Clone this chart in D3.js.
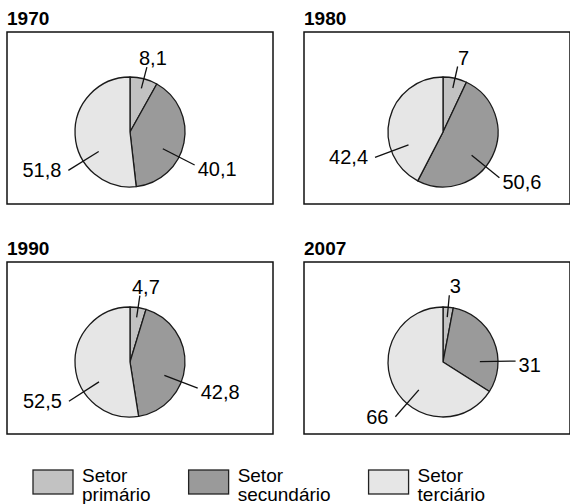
<!DOCTYPE html>
<html>
<head>
<meta charset="utf-8">
<script src="https://cdn.jsdelivr.net/npm/d3@7"></script>
<style>
  html, body { margin: 0; padding: 0; background: #fff; }
  svg { display: block; font-family: "Liberation Sans", Arimo, Arial, Helvetica, sans-serif; }
</style>
</head>
<body>
<svg id="chart" width="570" height="504"></svg>
<script>
// Data
const years = ["1970", "1980", "1990", "2007"];
const sectors = ["primário", "secundário", "terciário"];
const primario = [8.1, 7, 4.7, 3];
const secundario = [40.1, 50.6, 42.8, 31];
const terciario = [51.8, 42.4, 52.5, 66];

const colors = ["#c2c2c2", "#9a9a9a", "#e6e6e6"];

const svg = d3.select("#chart");
const boxW = 266, boxH = 172, r = 55;
const colX = [7, 304], rowY = [32, 262];
const pieDx = [123, 139], pieDy = 100;

const pie = d3.pie().sort(null).value(d => d);
const arc = d3.arc().innerRadius(0).outerRadius(r);

const fmt = v => String(v).replace(".", ",");
// how far the lower labels are pulled towards the bottom of the pie
const pull = [0, 0.2, 0.33];

years.forEach((year, i) => {
    const col = i % 2, row = Math.floor(i / 2);
    const x0 = colX[col], y0 = rowY[row];
    const g = svg.append("g").attr("transform", `translate(${x0},${y0})`);

    // Title
    g.append("text")
        .attr("x", 0).attr("y", -7)
        .attr("font-size", 19).attr("font-weight", "bold")
        .text(year);

    // Frame
    g.append("rect")
        .attr("width", boxW).attr("height", boxH)
        .attr("fill", "none").attr("stroke", "#111").attr("stroke-width", 1.5);

    const values = [primario[i], secundario[i], terciario[i]];
    const arcs = pie(values);
    const pg = g.append("g").attr("transform", `translate(${pieDx[col]},${pieDy})`);

    pg.selectAll("path")
        .data(arcs)
        .enter()
        .append("path")
        .attr("d", arc)
        .attr("fill", (d, k) => colors[k])
        .attr("stroke", "#1a1a1a")
        .attr("stroke-width", 1.3)
        .attr("stroke-linejoin", "round");

    // Labels with leader lines
    arcs.forEach((d, k) => {
        const mid = (d.startAngle + d.endAngle) / 2;
        const a = mid + pull[k] * (Math.PI - mid);
        const rIn = k === 0 ? 0.82 * r : 0.67 * r;
        const rOut = k === 0 ? 1.22 * r : 1.32 * r;
        const p1 = [rIn * Math.sin(a), -rIn * Math.cos(a)];
        const p2 = [rOut * Math.sin(a), -rOut * Math.cos(a)];

        pg.append("line")
            .attr("x1", p1[0]).attr("y1", p1[1])
            .attr("x2", p2[0]).attr("y2", p2[1])
            .attr("stroke", "#111").attr("stroke-width", 1.3);

        const t = pg.append("text")
            .attr("font-size", 20)
            .text(fmt(d.data));
        if (k === 0) {
            t.attr("x", p2[0] + 6).attr("y", p2[1] - 2).attr("text-anchor", "middle");
        } else if (Math.sin(a) > 0) {
            t.attr("x", p2[0] + 3).attr("y", p2[1] + 11).attr("text-anchor", "start");
        } else {
            t.attr("x", p2[0] - 7).attr("y", p2[1] + 7).attr("text-anchor", "end");
        }
    });
});

// Legend: swatch + two-line label, items laid out one after another
const lg = svg.append("g").attr("transform", "translate(0,470)");
let lx = 33;
sectors.forEach((s, k) => {
    lg.append("rect")
        .attr("x", lx).attr("y", 0)
        .attr("width", 40).attr("height", 24)
        .attr("fill", colors[k]).attr("stroke", "#222").attr("stroke-width", 1.3);
    const t = lg.append("text").attr("font-size", 19);
    t.append("tspan").attr("x", lx + 49).attr("y", 12).text("Setor");
    t.append("tspan").attr("x", lx + 49).attr("y", 31).text(s);
    lx += 49 + t.node().getBBox().width + 38;
});
</script>
</body>
</html>
